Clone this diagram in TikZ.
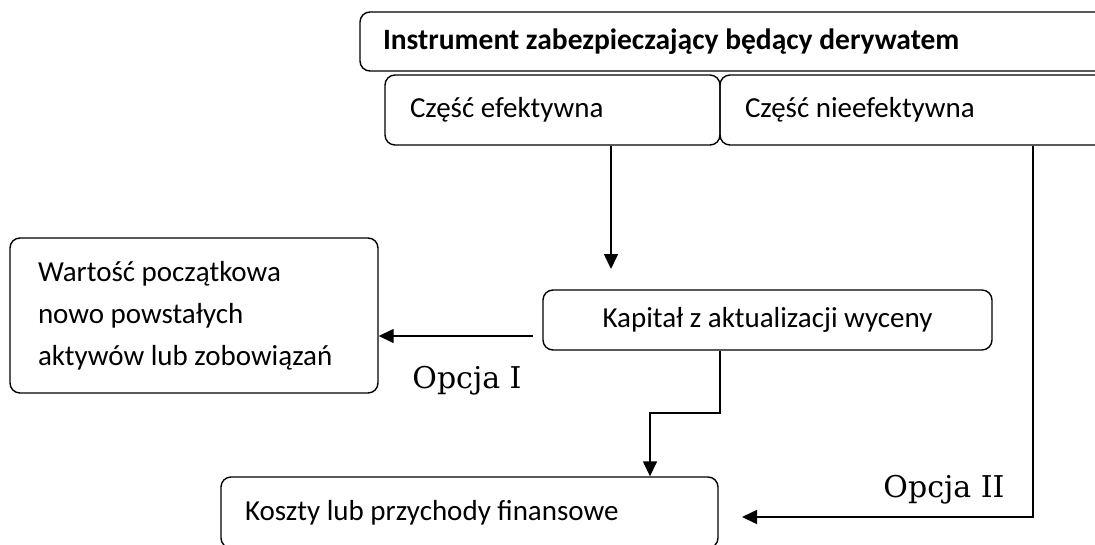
\documentclass[tikz,border=0pt]{standalone}
\usepackage{fontspec}
\setmainfont{Carlito}
\newfontfamily\opcjafont{DejaVu Serif}
\usetikzlibrary{arrows.meta}

\newcommand{\boxfont}{\fontsize{29}{42}\selectfont\spaceskip=0pt\xspaceskip=0pt\relax}
\tikzset{
    box/.style={draw, rounded corners=10pt, line width=1.4pt, align=left,
        execute at begin node=\boxfont},
    arr/.style={-{Triangle[length=15pt,width=14pt]}, line width=1.5pt},
    opcja/.style={font=\opcjafont\fontsize{30}{34}\selectfont}
}

\begin{document}
\begin{tikzpicture}[x=1pt,y=-1pt]
    \clip (0,0) rectangle (1095,544);
    % pola
    \node[box, minimum width=750pt, minimum height=59pt, text width=704pt,
        execute at begin node=\fontsize{29.5}{36}\selectfont\bfseries] (instr) at (735,41.5) {Instrument zabezpieczający będący derywatem};
    \node[box, minimum width=335pt, minimum height=70pt, text width=285pt] (eff) at (552.5,110) {Część efektywna};
    \node[box, minimum width=390pt, minimum height=70pt, text width=340pt] (neff) at (915,110) {Część nieefektywna};
    \node[box, minimum width=449pt, minimum height=60pt, align=center] (kap) at (767.5,320) {Kapitał z aktualizacji wyceny};
    \node[box, minimum width=368pt, minimum height=155pt, text width=312pt] (war) at (194,315.5) {Wartość początkowa\\nowo powstałych\\aktywów lub zobowiązań};
    \node[box, minimum width=497pt, minimum height=71pt, text width=449pt] (kos) at (469.5,512.5) {Koszty lub przychody finansowe};
    % opcje
    \node[opcja] (op1) at (467,381) {Opcja I};
    \node[opcja] (op2) at (944,490) {Opcja II};
    % strzalki
    \coordinate (kaptop) at (611,269);
    \coordinate (op1start) at (533,336);
    \coordinate (bend) at (720,413);
    \coordinate (drop) at (650,413);
    \coordinate (corner) at (1033,517);
    \coordinate (koshead) at (742,517);
    \draw[arr] (eff.south -| kaptop) -- (kaptop);
    \draw[arr] (op1start) -- (op1start -| war.east);
    \draw[arr] (kap.south -| bend) -- (bend) -- (drop) -- (drop |- kos.north);
    \draw[arr] (neff.south -| corner) -- (corner) -- (koshead);
\end{tikzpicture}
\end{document}
